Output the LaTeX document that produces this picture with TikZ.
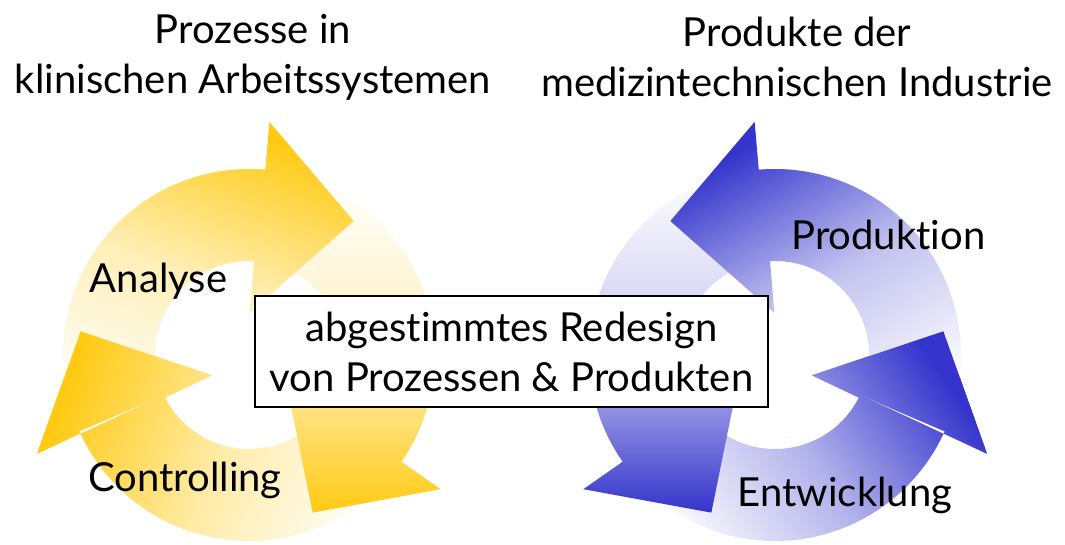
\documentclass[tikz,border=0pt]{standalone}
\usepackage{fontspec}
\setmainfont{Lato}[Ligatures=NoCommon]
\definecolor{cyel}{RGB}{255,202,20}
\definecolor{cblu}{RGB}{52,52,204}
\newcommand\cyclearrowpath[3]{(#1:186) arc[start angle=#1, end angle=#2, radius=186] -- (#2:234) -- ({#2-33*#3}:170) -- ({#2+4*#3}:42) -- ({#2+2*#3}:94) arc[start angle={#2+2*#3}, end angle=#1, radius=94] -- cycle}
\begin{document}
\begin{tikzpicture}[x=1pt,y=1pt]
\useasboundingbox (0,0) rectangle (1065,544);
\tikzset{
 lbl/.style={font=\fontsize{40}{48}\selectfont, inner sep=0pt},
 ttl/.style={font=\fontsize{40}{50}\selectfont, align=center, inner sep=0pt},
 boxnode/.style={draw=black, line width=1.5pt, fill=white, minimum width=513, minimum height=111, align=center, font=\fontsize{40}{50}\selectfont, inner sep=0pt},
 yelL/.style={top color=cyel, bottom color=white, middle color=cyel!38, shading angle=70},
 yelR/.style={top color=white, bottom color=cyel, middle color=cyel!25},
 yelT/.style={top color=cyel, bottom color=white, middle color=cyel!30, shading angle=-20},
 bluL/.style={top color=cblu, bottom color=white, middle color=cblu!38, shading angle=-55},
 bluR/.style={top color=white, bottom color=cblu, middle color=cblu!25},
 bluT/.style={top color=cblu, bottom color=white, middle color=cblu!30, shading angle=30}
}
% left cycle (clockwise)
\begin{scope}[shift={(249,189)}]
 \shade[yelL] \cyclearrowpath{325}{205}{1};
 \shade[yelR] \cyclearrowpath{85}{-35}{1};
 \shade[yelT] \cyclearrowpath{205}{85}{1};
 \begin{scope}
  \clip (210:28) -- (204:248) -- (169:180) -- cycle;
  \shade[yelL] \cyclearrowpath{325}{205}{1};
 \end{scope}
\end{scope}
% right cycle (counterclockwise)
\begin{scope}[shift={(775,189)}]
 \shade[bluL] \cyclearrowpath{215}{335}{(-1)};
 \shade[bluR] \cyclearrowpath{95}{215}{(-1)};
 \shade[bluT] \cyclearrowpath{-25}{95}{(-1)};
 \begin{scope}
  \clip (330:28) -- (336:248) -- (371:180) -- cycle;
  \shade[bluL] \cyclearrowpath{215}{335}{(-1)};
 \end{scope}
\end{scope}
\node[ttl] (t1) at (253,487) {Prozesse in\\klinischen Arbeitssystemen};
\node[ttl] (t2) at (797,487) {Produkte der\\medizintechnischen Industrie};
\node[boxnode] (box) at (511.5,192.5) {abgestimmtes Redesign\\von Prozessen \& Produkten};
\node[lbl, anchor=base] (ana) at (158.5,251) {Analyse};
\node[lbl, anchor=base] (con) at (185,53) {Controlling};
\node[lbl, anchor=base] (pro) at (888.5,294) {Produktion};
\node[lbl, anchor=base] (ent) at (845,38) {Entwicklung};
\end{tikzpicture}
\end{document}
